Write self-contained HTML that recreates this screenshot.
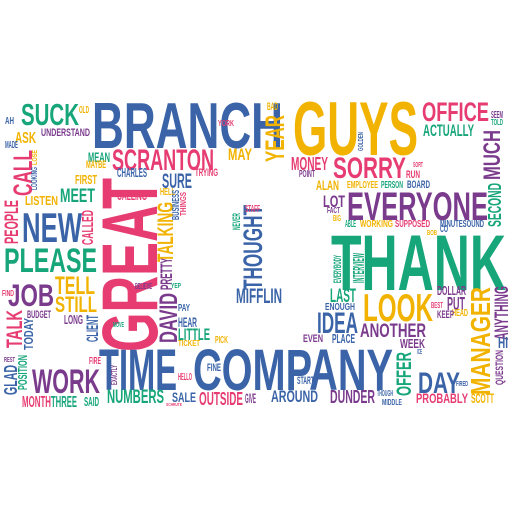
<!DOCTYPE html>
<html><head><meta charset="utf-8"><style>
html,body{margin:0;padding:0;background:#fff;}
svg{display:block;}
text{font-family:"Liberation Sans Narrow","Liberation Sans",sans-serif;font-weight:bold;}
</style></head><body>
<svg id="cloud" width="512" height="512" viewBox="0 0 512 512"></svg>
<script>
const B="#3b64a8",P="#e63c72",Y="#f1b300",G="#17a57a",U="#7b3b8d";
// words: text, x0, y0, x1, y1, color, vertical
const words=[
["BRANCH",92,101,283,148,B,0],["GUYS",293,100,418,155,Y,0],["OFFICE",422,102,489,121,P,0],
["ACTUALLY",423,124,474,136,G,0],["SUCK",21,103,79,125,G,0],["UNDERSTAND",41,128,90,136,U,0],
["ASK",15,132,36,143,Y,0],["AH",5,117,14,124,B,0],["SCRANTON",112,149,214,170,P,0],
["MAY",228,148,252,160,Y,0],["YEAR",265,115,284,162,Y,1],["SORRY",333,157,406,178,P,0],
["MONEY",291,157,328,170,P,0],["ALAN",316,180,339,190,Y,0],["EMPLOYEE",347,181,378,188,Y,0],
["PERSON",381,181,403,188,G,0],["BOARD",407,180,430,188,B,0],["MUCH",483,130,500,180,U,1],
["SECOND",488,183,501,227,G,1],["EVERYONE",347,191,488,220,U,0],["LOT",323,195,345,207,U,0],
["WORKING",360,220,393,227,Y,0],["SUPPOSED",395,220,430,227,P,0],["MINUTESOUND",440,220,484,227,B,0],
["THANK",331,233,506,290,G,0],["GREAT",100,178,157,352,P,1],["NEW",22,212,82,242,B,0],
["MEET",60,188,95,202,G,0],["LISTEN",25,196,58,205,Y,0],["CALL",13,150,32,196,P,1],
["PEOPLE",4,200,18,244,P,1],["PLEASE",4,247,97,272,G,0],["JOB",8,283,54,306,U,0],
["TELL",55,276,95,294,Y,0],["STILL",55,296,97,312,Y,0],["TALK",6,310,22,348,P,1],
["TODAY",24,318,33,350,B,1],["GLAD",4,365,17,395,B,1],["POSITION",18,355,27,390,G,1],
["WORK",32,368,100,393,U,0],["MONTH",22,396,51,407,P,0],["THREE",51,396,77,407,G,0],
["TIME",99,348,177,390,B,0],["COMPANY",193,348,393,390,B,0],["NUMBERS",107,389,164,403,G,0],
["SALE",172,392,196,402,B,0],["OUTSIDE",199,392,243,405,P,0],["AROUND",271,390,318,402,B,0],
["DUNDER",330,390,375,403,U,0],["DAY",418,372,460,393,B,0],["OFFER",396,352,411,396,G,1],
["PROBABLY",416,393,468,403,P,0],["SCOTT",471,393,494,403,Y,0],["MANAGER",470,287,490,395,Y,1],
["ANYTHING",494,286,508,340,U,1],["LOOK",363,293,433,321,Y,0],["IDEA",317,312,358,333,B,0],
["ANOTHER",360,323,426,337,U,0],["DAVID",159,293,177,343,U,1],["PRETTY",160,258,172,290,U,1],
["TALKING",157,202,173,262,Y,1],["THOUGHT",243,205,262,290,B,1],["MIFFLIN",236,288,282,303,B,0],
["SURE",162,173,192,188,B,0],["CHARLES",117,168,147,177,B,0],["CALLING",117,190,147,200,P,0],
["FIRST",75,175,97,184,Y,0],["MEAN",88,152,110,162,G,0],["LAST",330,288,356,302,G,0],
["ENOUGH",325,303,355,310,B,0],["PUT",447,297,465,310,U,0],["DOLLAR",437,286,466,295,U,0],
["LITTLE",178,328,210,340,G,0],["HEAR",178,317,197,327,B,0],["EVEN",303,334,323,342,U,0],
["PLACE",332,334,355,343,B,0],["WEEK",400,339,425,348,U,0],["CLIENT",86,315,98,342,B,1],
["CALLED",82,210,93,245,P,1],["INTERVIEW",353,253,364,283,G,1],["EVERYBODY",333,255,341,283,G,1],
["START",297,376,314,384,B,0],["FIRE",89,357,101,364,P,0],["FINE",207,363,221,371,B,0],
["HELLO",178,373,192,380,P,0],["TICKET",178,340,200,346,Y,0],["PICK",215,336,228,343,Y,0],
["LONG",64,315,83,324,U,0],["BUDGET",27,310,51,318,U,0],["FIND",2,290,14,296,P,0],
["MAYBE",86,160,106,168,Y,0],["LOOKING",31,167,37,190,B,1],["LOSE",32,150,37,165,Y,1],
["MADE",5,141,18,148,B,0],["OLD",79,106,89,113,Y,0],["HELL",160,188,175,195,Y,0],
["BUSINESS",172,190,179,220,B,1],["THINGS",180,192,186,216,P,1],["TRYING",195,168,218,176,P,0],
["YORK",218,120,234,126,P,0],["STAFF",245,205,260,212,P,0],["NEVER",232,213,240,230,G,1],
["SEEM",491,111,503,118,U,0],["TOLD",491,119,503,125,G,0],["HEAD",452,309,468,316,Y,0],
["KEEP",437,310,454,318,U,0],["BEST",431,302,443,308,P,0],["ICE",417,349,422,354,B,0],
["FIRED",456,381,468,386,B,0],["HI",498,337,508,348,B,0],["QUESTION",495,350,503,385,U,1],
["MIDDLE",382,399,402,405,B,0],["THOUGH",377,390,393,396,B,0],["GIVE",245,393,256,403,U,0],
["EXACTLY",111,365,117,385,U,1],["SAID",84,397,99,406,G,0],["REST",4,357,15,362,U,0],
["MOVE",113,322,124,327,G,0],["BELIEVE",135,283,152,289,U,0],["YEP",171,283,181,288,G,0],
["PAY",178,304,190,311,B,0],["SCHRUTE",166,403,182,406,P,0],["CO",440,225,448,232,B,0],
["BOB",427,230,437,235,Y,0],["RUN",406,170,420,178,P,0],["SORT",413,162,423,167,P,0],
["GOLDEN",358,132,363,151,B,1],["POINT",299,170,315,177,U,0],["BAD",267,102,278,110,Y,0],
["BIG",333,215,341,221,Y,0],["ABLE",345,220,356,227,G,0],["FACT",327,207,340,213,U,0]
];
const svg=document.getElementById('cloud');
const NS="http://www.w3.org/2000/svg";
const CAP=0.72;
words.forEach(w=>{
  const [txt,x0,y0,x1,y1,col,vert]=w;
  const t=document.createElementNS(NS,'text');
  
  
  t.textContent=txt;
  t.setAttribute('fill',col);
  t.setAttribute('lengthAdjust','spacingAndGlyphs');
  if(!vert){
    const h=y1-y0;
    t.setAttribute('x',x0);t.setAttribute('y',y1);
    t.setAttribute('font-size',(h/CAP).toFixed(1));
    t.setAttribute('textLength',x1-x0);
  }else{
    const h=x1-x0;
    t.setAttribute('x',0);t.setAttribute('y',0);
    t.setAttribute('transform','translate('+x1+','+y1+') rotate(-90)');
    t.setAttribute('font-size',(h/CAP).toFixed(1));
    t.setAttribute('textLength',y1-y0);
  }
  svg.appendChild(t);
});
</script>
</body></html>
